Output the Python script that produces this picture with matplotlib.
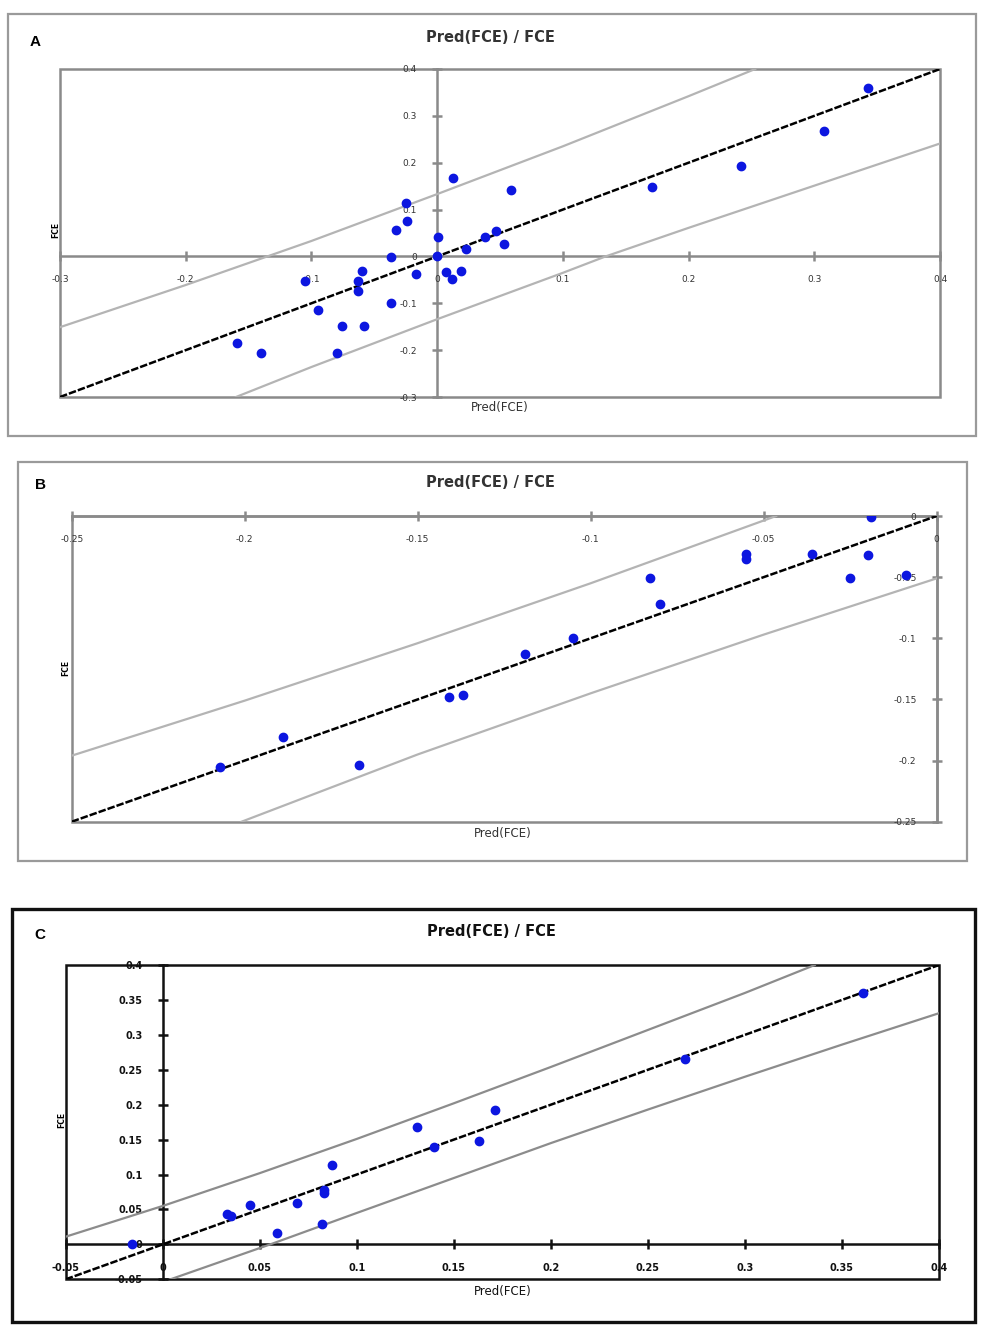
import matplotlib
matplotlib.use("Agg")
import matplotlib.pyplot as plt
from matplotlib.patches import Rectangle

# ---------------- data ----------------
# Panel A
a_pred = [-0.159, -0.140, -0.105, -0.095, -0.076, -0.080, -0.063, -0.063, -0.060, -0.058,
          -0.037, -0.037, -0.033, -0.025, -0.024, -0.017, 0.001, 0.000, 0.007, 0.012,
          0.013, 0.019, 0.023, 0.038, 0.047, 0.053, 0.059, 0.171, 0.242, 0.308, 0.343]
a_obs = [-0.184, -0.206, -0.053, -0.114, -0.149, -0.206, -0.053, -0.073, -0.031, -0.148,
         -0.100, -0.001, 0.057, 0.113, 0.076, -0.037, 0.041, 0.000, -0.034, -0.049,
         0.167, -0.031, 0.016, 0.041, 0.054, 0.027, 0.141, 0.148, 0.193, 0.268, 0.360]
a_reg_x = [-0.3, 0.4]
a_reg_y = [-0.3, 0.4]
a_up_x = [-0.3, -0.2, -0.1, 0.0, 0.1, 0.2, 0.253]
a_up_y = [-0.151, -0.061, 0.033, 0.133, 0.235, 0.342, 0.4]
a_lo_x = [-0.16, -0.1, 0.0, 0.1, 0.134, 0.2, 0.3, 0.4]
a_lo_y = [-0.3, -0.236, -0.134, -0.035, 0.0, 0.061, 0.151, 0.241]
a_xticks = [-0.3, -0.2, -0.1, 0.0, 0.1, 0.2, 0.3, 0.4]
a_xlabels = ["-0.3", "-0.2", "-0.1", "0", "0.1", "0.2", "0.3", "0.4"]
a_yticks = [-0.3, -0.2, -0.1, 0.0, 0.1, 0.2, 0.3, 0.4]
a_ylabels = ["-0.3", "-0.2", "-0.1", "0", "0.1", "0.2", "0.3", "0.4"]

# Panel B
b_pred = [-0.207, -0.189, -0.167, -0.141, -0.137, -0.119, -0.105, -0.083, -0.080,
          -0.055, -0.055, -0.036, -0.025, -0.020, -0.019, -0.009]
b_obs = [-0.205, -0.181, -0.204, -0.148, -0.146, -0.113, -0.100, -0.051, -0.072,
         -0.031, -0.035, -0.031, -0.051, -0.032, -0.001, -0.048]
b_reg_x = [-0.25, 0.0]
b_reg_y = [-0.25, 0.0]
b_up_x = [-0.25, -0.2, -0.15, -0.1, -0.0464]
b_up_y = [-0.196, -0.151, -0.104, -0.055, 0.0]
b_lo_x = [-0.2009, -0.15, -0.1, -0.05, 0.0]
b_lo_y = [-0.25, -0.195, -0.145, -0.097, -0.051]
b_xticks = [-0.25, -0.2, -0.15, -0.1, -0.05, 0.0]
b_xlabels = ["-0.25", "-0.2", "-0.15", "-0.1", "-0.05", "0"]
b_yticks = [-0.25, -0.2, -0.15, -0.1, -0.05, 0.0]
b_ylabels = ["-0.25", "-0.2", "-0.15", "-0.1", "-0.05", "0"]

# Panel C
c_pred = [-0.016, 0.033, 0.035, 0.045, 0.059, 0.069, 0.082, 0.083, 0.083, 0.087,
          0.131, 0.140, 0.163, 0.171, 0.269, 0.361]
c_obs = [0.000, 0.044, 0.041, 0.056, 0.017, 0.059, 0.029, 0.078, 0.074, 0.113,
         0.168, 0.140, 0.148, 0.193, 0.266, 0.360]
c_reg_x = [-0.05, 0.4]
c_reg_y = [-0.05, 0.4]
c_up_x = [-0.05, 0.0, 0.05, 0.1, 0.15, 0.2, 0.25, 0.3, 0.336]
c_up_y = [0.011, 0.055, 0.102, 0.151, 0.202, 0.254, 0.307, 0.360, 0.4]
c_lo_x = [0.004, 0.0554, 0.1, 0.15, 0.2, 0.25, 0.3, 0.35, 0.4]
c_lo_y = [-0.05, 0.0, 0.045, 0.095, 0.145, 0.193, 0.240, 0.286, 0.331]
c_xticks = [-0.05, 0.0, 0.05, 0.1, 0.15, 0.2, 0.25, 0.3, 0.35, 0.4]
c_xlabels = ["-0.05", "0", "0.05", "0.1", "0.15", "0.2", "0.25", "0.3", "0.35", "0.4"]
c_yticks = [-0.05, 0.0, 0.05, 0.1, 0.15, 0.2, 0.25, 0.3, 0.35, 0.4]
c_ylabels = ["-0.05", "0", "0.05", "0.1", "0.15", "0.2", "0.25", "0.3", "0.35", "0.4"]

title_text = "Pred(FCE) / FCE"
xlabel_text = "Pred(FCE)"
ylabel_text = "FCE"
panel_letters = ["A", "B", "C"]

# ---------------- layout ----------------
W, H = 988, 1339
fig = plt.figure(figsize=(W / 100, H / 100), dpi=100)
fig.patch.set_facecolor("white")


def fx(x):
    return x / W


def fy(y):
    return 1 - y / H


def add_axes_px(x0, y0, x1, y1):
    return fig.add_axes([fx(x0), fy(y1), (x1 - x0) / W, (y1 - y0) / H])


def frame_px(x0, y0, x1, y1, color, lw):
    fig.add_artist(Rectangle((fx(x0), fy(y1)), (x1 - x0) / W, (y1 - y0) / H,
                             transform=fig.transFigure, fill=False,
                             edgecolor=color, linewidth=lw, zorder=0))


blue = "#0c16e0"


def style_axes(ax, xlim, ylim, xticks, xlabels, yticks, ylabels,
               spine_color, spine_lw, tick_color, tick_size, tick_weight):
    ax.set_xlim(*xlim)
    ax.set_ylim(*ylim)
    ax.set_facecolor("none")
    ax.spines["left"].set_position(("data", 0))
    ax.spines["bottom"].set_position(("data", 0))
    ax.spines["top"].set_visible(False)
    ax.spines["right"].set_visible(False)
    for s in ("left", "bottom"):
        ax.spines[s].set_color(spine_color)
        ax.spines[s].set_linewidth(spine_lw)
        ax.spines[s].set_zorder(1)
    ax.add_patch(Rectangle((0, 0), 1, 1, transform=ax.transAxes, fill=False,
                           edgecolor=spine_color, linewidth=spine_lw, zorder=1,
                           clip_on=False))
    ax.set_xticks(xticks)
    ax.set_xticklabels(xlabels)
    ax.set_yticks(yticks)
    ax.set_yticklabels(ylabels)
    ax.tick_params(axis="both", direction="inout", length=7, width=spine_lw,
                   color=spine_color, labelsize=tick_size, labelcolor=tick_color)
    ax.tick_params(axis="x", pad=10)
    ax.tick_params(axis="y", pad=11)
    for lab in ax.get_xticklabels() + ax.get_yticklabels():
        lab.set_fontweight(tick_weight)


def draw_panel(ax, px, py, rx, ry, ux, uy, lx, ly, band_color):
    ax.plot(ux, uy, color=band_color, lw=1.6, zorder=2, clip_on=True)
    ax.plot(lx, ly, color=band_color, lw=1.6, zorder=2, clip_on=True)
    ax.plot(rx, ry, color="black", lw=1.8, linestyle=(0, (3, 0.8)), zorder=3)
    ax.plot(px, py, linestyle="none", marker="o", markersize=6.0,
            color=blue, markeredgecolor=blue, zorder=4)


def panel_texts(letter, lx, ly, tx, ty, xlx, xly, ylx, yly, color):
    fig.text(fx(lx), fy(ly), letter, ha="center", va="center", fontsize=11,
             fontweight="bold", family="Liberation Sans", color="black")
    fig.text(fx(tx), fy(ty), title_text, ha="center", va="center", fontsize=10.5,
             fontweight="bold", color=color)
    fig.text(fx(xlx), fy(xly), xlabel_text, ha="center", va="center", fontsize=8.5,
             color=color)
    fig.text(fx(ylx), fy(yly), ylabel_text, ha="center", va="center", fontsize=5.5,
             fontweight="bold", rotation=90, color="black")


# ---------- Panel A ----------
frame_px(8, 14, 976, 436, "#9a9a9a", 1.6)
axA = add_axes_px(60, 69, 940, 397)
style_axes(axA, (-0.3, 0.4), (-0.3, 0.4), a_xticks, a_xlabels, a_yticks, a_ylabels,
           "#8a8a8a", 1.8, "#333333", 6.5, "normal")
draw_panel(axA, a_pred, a_obs, a_reg_x, a_reg_y, a_up_x, a_up_y, a_lo_x, a_lo_y, "#b4b4b4")
panel_texts("A", 35, 42, 490, 38, 500, 408, 56, 230, "#333333")

# ---------- Panel B ----------
frame_px(18, 462, 967, 861, "#9a9a9a", 1.6)
axB = add_axes_px(71.7, 516, 936.7, 821.7)
style_axes(axB, (-0.25, 0.0), (-0.25, 0.0), b_xticks, b_xlabels, b_yticks, b_ylabels,
           "#8a8a8a", 1.8, "#333333", 6.5, "normal")
draw_panel(axB, b_pred, b_obs, b_reg_x, b_reg_y, b_up_x, b_up_y, b_lo_x, b_lo_y, "#b4b4b4")
panel_texts("B", 40, 485, 490, 482, 503, 833, 66, 668, "#333333")

# ---------- Panel C ----------
frame_px(12, 909, 975, 1322, "#111111", 2.4)
axC = add_axes_px(65.7, 965, 939, 1279.3)
style_axes(axC, (-0.05, 0.4), (-0.05, 0.4), c_xticks, c_xlabels, c_yticks, c_ylabels,
           "#111111", 1.8, "#111111", 7, "bold")
draw_panel(axC, c_pred, c_obs, c_reg_x, c_reg_y, c_up_x, c_up_y, c_lo_x, c_lo_y, "#8c8c8c")
panel_texts("C", 40, 935, 491, 931, 503, 1291, 62, 1120, "#111111")

fig.savefig("out.png", dpi=100, facecolor="white")
